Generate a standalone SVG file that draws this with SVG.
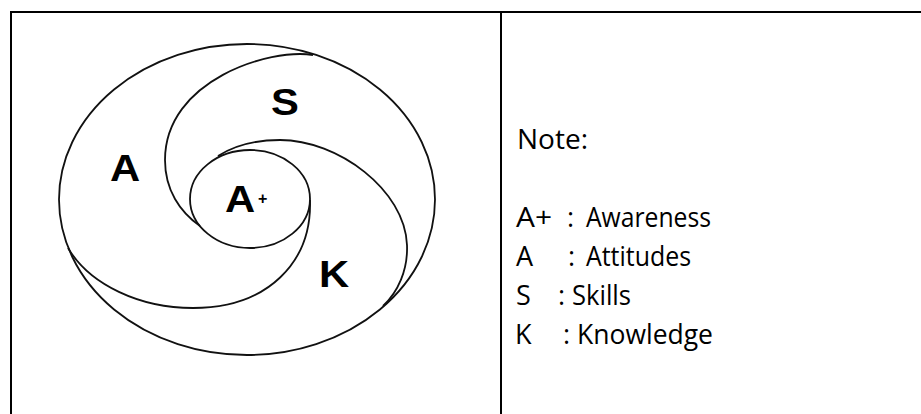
<svg xmlns="http://www.w3.org/2000/svg" width="921" height="414" viewBox="0 0 921 414">
<style>
.tbl{stroke:#000;stroke-width:2;fill:none}
.ln{stroke:#111;stroke-width:1.8;fill:none}
.lbl{font-family:"Liberation Sans",Arial,sans-serif;font-weight:bold;font-size:37px;fill:#000}
.note{font-family:"Open Sans","Noto Sans",sans-serif;font-size:27px;fill:#000}
</style>
<rect width="921" height="414" fill="#fff"/>
<g id="table">
<line class="tbl" x1="10" y1="12" x2="921" y2="12"/>
<line class="tbl" x1="11" y1="12" x2="11" y2="414"/>
<line class="tbl" x1="501" y1="12" x2="501" y2="414"/>
</g>
<g id="outer"><ellipse class="ln" cx="247" cy="199.5" rx="188" ry="155.5"/></g>
<g id="awareness"><ellipse class="ln" cx="250" cy="199" rx="60" ry="49"/></g>
<g id="connectors">
<path id="skills-arm" class="ln" d="M313,55 C270,48 165,80 165,160 C165,190 180,212 200,226"/>
<path id="knowledge-arm" class="ln" d="M218,156 C235,145 255,140 280,140 C338,140 405,190 407,245 C408,270 398,292 383,306"/>
<path id="attitudes-arm" class="ln" d="M310,200 C312,262 268,308 193,308 C140,308 90,285 68,248"/>
</g>
<g id="label-A"><text class="lbl" transform="translate(110,181) scale(1.13,1)">A</text></g>
<g id="label-S"><text class="lbl" transform="translate(271,115) scale(1.13,1)">S</text></g>
<g id="label-K"><text class="lbl" transform="translate(319,287) scale(1.13,1)">K</text></g>
<g id="label-Aplus">
<text class="lbl" transform="translate(225,212) scale(1.13,1)">A</text>
<text class="lbl" style="font-size:16px" x="258" y="204">+</text>
</g>
<g id="note">
<text class="note" x="517" y="149" textLength="71" lengthAdjust="spacingAndGlyphs">Note:</text>
<text class="note" x="516" y="227" textLength="36" lengthAdjust="spacingAndGlyphs">A+</text>
<text class="note" x="567" y="227">:</text>
<text class="note" x="586" y="227" textLength="125" lengthAdjust="spacingAndGlyphs">Awareness</text>
<text class="note" x="516" y="266">A</text>
<text class="note" x="568" y="266">:</text>
<text class="note" x="586" y="266" textLength="105" lengthAdjust="spacingAndGlyphs">Attitudes</text>
<text class="note" x="516" y="305">S</text>
<text class="note" x="558" y="305">:</text>
<text class="note" x="572" y="305" textLength="59" lengthAdjust="spacingAndGlyphs">Skills</text>
<text class="note" x="515" y="344">K</text>
<text class="note" x="563" y="344">:</text>
<text class="note" x="577" y="344" textLength="136" lengthAdjust="spacingAndGlyphs">Knowledge</text>
</g>
</svg>
